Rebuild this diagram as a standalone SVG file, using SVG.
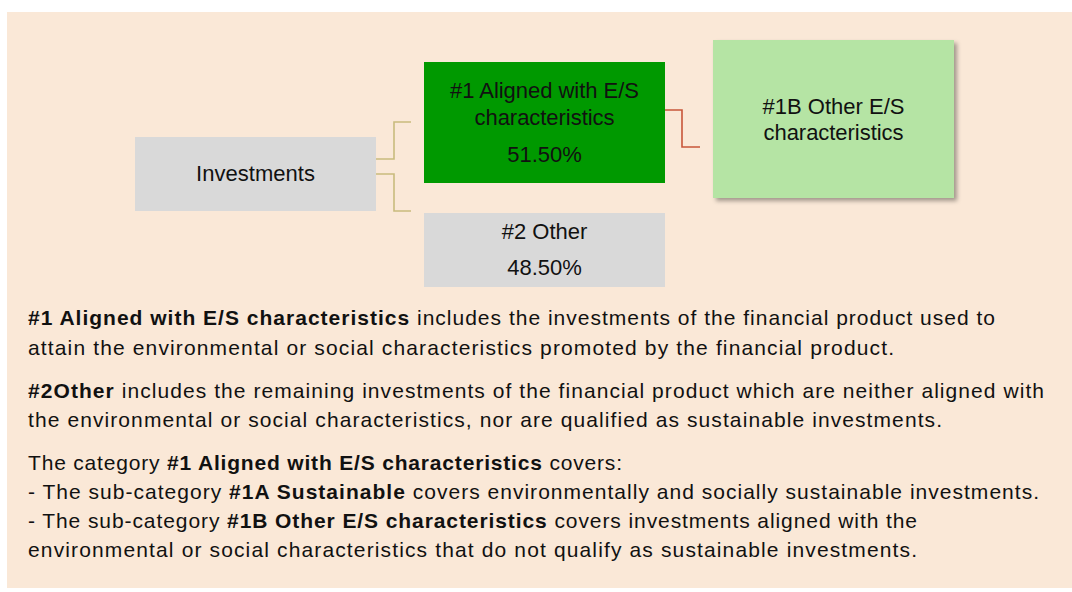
<svg xmlns="http://www.w3.org/2000/svg" width="1072" height="592" viewBox="0 0 1072 592">
<style>
.nt{font-family:"Liberation Sans",Arial,sans-serif;font-size:22px;fill:#111;text-anchor:middle}
.pt{font-family:"Liberation Sans",Arial,sans-serif;font-size:21px;fill:#111}
.b{font-weight:bold}
.cn{fill:none;stroke-width:1.6}
</style>
<defs>
<filter id="sh" x="-10%" y="-10%" width="130%" height="130%">
<feDropShadow dx="3" dy="3" stdDeviation="2" flood-color="#000" flood-opacity="0.35"/>
</filter>
</defs>
<rect x="0" y="0" width="1072" height="592" fill="#ffffff"/>
<rect x="7" y="12" width="1065" height="576" fill="#FAE8D7"/>
<g id="connectors">
<polyline class="cn" stroke="#C9BB7E" points="376,159 394,159 394,122 411,122"/>
<polyline class="cn" stroke="#C9BB7E" points="376,174 394,174 394,211 411,211"/>
<polyline class="cn" stroke="#C8553A" points="665,110 682,110 682,147 700,147"/>
</g>
<g id="investments">
<rect x="135" y="137" width="241" height="74" fill="#D9D9D9"/>
<text class="nt" x="255.5" y="181" textLength="119">Investments</text>
</g>
<g id="aligned">
<rect x="424" y="62" width="241" height="121" fill="#009900"/>
<text class="nt" x="544.5" y="98" textLength="189">#1 Aligned with E/S</text>
<text class="nt" x="544.5" y="125" textLength="140">characteristics</text>
<text class="nt" x="544.5" y="162">51.50%</text>
</g>
<g id="other">
<rect x="424" y="213" width="241" height="74" fill="#D9D9D9"/>
<text class="nt" x="544.5" y="239">#2 Other</text>
<text class="nt" x="544.5" y="275">48.50%</text>
</g>
<g id="other-es">
<rect x="713" y="40" width="241" height="158" fill="#B5E4A4" filter="url(#sh)"/>
<text class="nt" x="833.5" y="114">#1B Other E/S</text>
<text class="nt" x="833.5" y="140" textLength="140">characteristics</text>
</g>
<g id="notes">
<text class="pt" x="28" y="325" textLength="967" lengthAdjust="spacing"><tspan class="b">#1 Aligned with E/S characteristics</tspan> includes the investments of the financial product used to</text>
<text class="pt" x="28" y="355" textLength="866" lengthAdjust="spacing">attain the environmental or social characteristics promoted by the financial product.</text>
<text class="pt" x="28" y="398" textLength="1016" lengthAdjust="spacing"><tspan class="b">#2Other</tspan> includes the remaining investments of the financial product which are neither aligned with</text>
<text class="pt" x="28" y="427" textLength="914" lengthAdjust="spacing">the environmental or social characteristics, nor are qualified as sustainable investments.</text>
<text class="pt" x="28" y="470" textLength="594" lengthAdjust="spacing">The category <tspan class="b">#1 Aligned with E/S characteristics</tspan> covers:</text>
<text class="pt" x="28" y="499" textLength="1011" lengthAdjust="spacing">- The sub-category <tspan class="b">#1A Sustainable</tspan> covers environmentally and socially sustainable investments.</text>
<text class="pt" x="28" y="528" textLength="889" lengthAdjust="spacing">- The sub-category <tspan class="b">#1B Other E/S characteristics</tspan> covers investments aligned with the</text>
<text class="pt" x="28" y="557" textLength="889" lengthAdjust="spacing">environmental or social characteristics that do not qualify as sustainable investments.</text>
</g>
</svg>
